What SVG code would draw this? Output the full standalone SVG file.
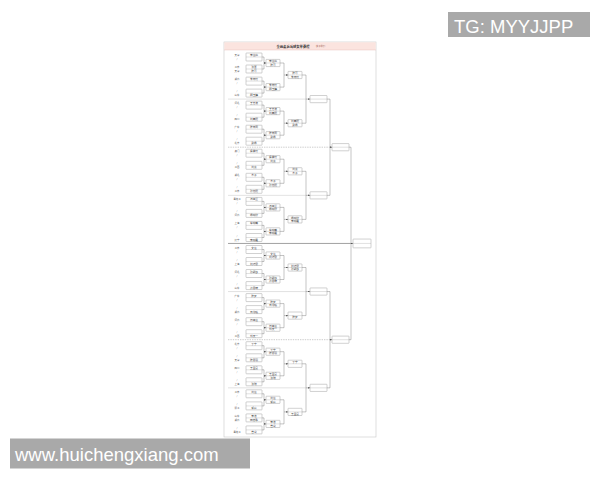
<svg xmlns="http://www.w3.org/2000/svg" xmlns:xlink="http://www.w3.org/1999/xlink" width="600" height="480" viewBox="0 0 600 480">
<style>
.bx rect{fill:#fff;stroke:#8a8a8a;stroke-width:.4}
.bx path{fill:none;stroke:#9a9a9a;stroke-width:.3}
.t{font-family:"Noto Sans CJK SC","Noto Sans",sans-serif;font-size:2.7px;fill:#444;text-anchor:middle}
.l{font-family:"Noto Sans CJK SC","Noto Sans",sans-serif;font-size:2.4px;fill:#555;text-anchor:middle}
.c{fill:none;stroke:#6a6a6a;stroke-width:.4}
.a{fill:none;stroke:#6a6a6a;stroke-width:.4;marker-end:url(#ar)}
.s{fill:none;stroke:#c4c4c4;stroke-width:.5}
.sd{fill:none;stroke:#9a9a9a;stroke-width:.5;stroke-dasharray:1.4 1}
.sm{fill:none;stroke:#8a8a8a;stroke-width:.8}
.wm{font-family:"Liberation Sans",Arial,sans-serif;font-size:18.5px;fill:#fff}
</style>
<defs>
<marker id="ar" markerUnits="userSpaceOnUse" markerWidth="1.8" markerHeight="1.8" refX="1.8" refY=".9" orient="auto"><path d="M0 0L1.8 .9L0 1.8z" fill="#444"/></marker>
<g id="b1" class="bx"><rect x="246" y="-4" width="16" height="8" rx=".5"/><path d="M246 0H262"/></g>
<g id="b2" class="bx"><rect x="266" y="-3.6" width="14" height="7.2" rx=".5"/><path d="M266 0H280"/></g>
<g id="b3" class="bx"><rect x="288" y="-3.6" width="14" height="7.2" rx=".5"/><path d="M288 0H302"/></g>
<g id="b4" class="bx"><rect x="310" y="-3.6" width="17" height="7.2" rx=".5"/><path d="M310 0H327"/></g>
<g id="b5" class="bx"><rect x="332" y="-3.6" width="17" height="7.2" rx=".5"/><path d="M332 0H349"/></g>
<g id="b6" class="bx"><rect x="353" y="-4.4" width="18" height="8.8" rx=".5"/><path d="M353 0H371"/></g>
</defs>
<rect width="600" height="480" fill="#fff"/>
<g id="frame">
<rect x="224" y="42" width="152" height="395" fill="#fff" stroke="#c8c8c8" stroke-width=".6"/>
<rect x="224.3" y="42.3" width="151.4" height="7.7" fill="#fbe4df"/>
<path d="M224 50H376" stroke="#e3b9b1" stroke-width=".4"/>
<text x="293" y="47.5" font-family="Noto Sans CJK SC,sans-serif" font-size="3.3" font-weight="bold" fill="#333" text-anchor="middle">全运会乒乓球女单赛程</text>
<text x="320.5" y="47.3" font-family="Noto Sans CJK SC,sans-serif" font-size="2.1" fill="#a05a50" text-anchor="middle">(女子单打)</text>
</g>
<g id="separators">
<path class="s" d="M228 99.1H306M228 195.35H306M228 291.55H306M228 387.85H306"/>
<path class="sd" d="M228 147.2H330M228 339.7H330"/>
<path class="sm" d="M228 243.45H351"/>
</g>
<g id="connectors">
<path class="c" d="M262 57H264V69H262M262 81.1H264V93.1H262M262 105.1H264V117.2H262M262 129.2H264V141.2H262M262 153.2H264V165.3H262M262 177.3H264V189.3H262M262 201.4H264V213.4H262M262 225.4H264V237.5H262M262 249.5H264V261.5H262M262 273.5H264V285.6H262M262 297.6H264V309.6H262M262 321.7H264V333.7H262M262 345.7H264V357.8H262M262 369.8H264V381.8H262M262 393.8H264V405.9H262M262 417.9H264V429.9H262"/>
<path class="c" d="M280 63H284V87.1H280M280 111.1H284V135.2H280M280 159.2H284V183.3H280M280 207.4H284V231.4H280M280 255.5H284V279.5H280M280 303.6H284V327.7H280M280 351.7H284V375.8H280M280 399.8H284V423.9H280"/>
<path class="c" d="M302 75H306V123.2H302M302 171.3H306V219.4H302M302 267.5H306V315.6H302M302 363.8H306V411.9H302"/>
<path class="c" d="M327 99.1H330V195.35H327M327 291.55H330V387.85H327"/>
<path class="c" d="M349 147.2H351V339.7H349"/>
<path class="a" d="M264 63H266"/><path class="a" d="M264 87.1H266"/><path class="a" d="M264 111.1H266"/><path class="a" d="M264 135.2H266"/><path class="a" d="M264 159.2H266"/><path class="a" d="M264 183.3H266"/><path class="a" d="M264 207.4H266"/><path class="a" d="M264 231.4H266"/><path class="a" d="M264 255.5H266"/><path class="a" d="M264 279.5H266"/><path class="a" d="M264 303.6H266"/><path class="a" d="M264 327.7H266"/><path class="a" d="M264 351.7H266"/><path class="a" d="M264 375.8H266"/><path class="a" d="M264 399.8H266"/><path class="a" d="M264 423.9H266"/>
<path class="a" d="M284 75H288"/><path class="a" d="M284 123.2H288"/><path class="a" d="M284 171.3H288"/><path class="a" d="M284 219.4H288"/><path class="a" d="M284 267.5H288"/><path class="a" d="M284 315.6H288"/><path class="a" d="M284 363.8H288"/><path class="a" d="M284 411.9H288"/>
<path class="a" d="M306 99.1H310"/><path class="a" d="M306 195.35H310"/><path class="a" d="M306 291.55H310"/><path class="a" d="M306 387.85H310"/>
<path class="a" d="M330 147.2H332"/><path class="a" d="M330 339.7H332"/>
<path class="a" d="M351 243.45H353"/>
</g>
<g id="round1">
<g id="m0" transform="translate(0 57)"><use href="#b1"/><text class="l" x="237" y="-1">天津</text><text class="l" x="237" y="3">/</text><text class="t" x="254" y="-1">李佳燚</text></g>
<g id="m1" transform="translate(0 69)"><use href="#b1"/><text class="l" x="237" y="-1">江苏</text><text class="l" x="237" y="3">天津</text><text class="t" x="254" y="-1">张蔷</text><text class="t" x="254" y="3">陈可</text></g>
<g id="m2" transform="translate(0 81.1)"><use href="#b1"/><text class="l" x="237" y="-1">湖南</text><text class="l" x="237" y="3">/</text><text class="t" x="254" y="-1">朱雨玲</text></g>
<g id="m3" transform="translate(0 93.1)"><use href="#b1"/><text class="l" x="237" y="-1">/</text><text class="l" x="237" y="3">山东</text><text class="t" x="254" y="3">顾玉婷</text></g>
<g id="m4" transform="translate(0 105.1)"><use href="#b1"/><text class="l" x="237" y="-1">河北</text><text class="l" x="237" y="3">/</text><text class="t" x="254" y="-1">王艺迪</text></g>
<g id="m5" transform="translate(0 117.2)"><use href="#b1"/><text class="l" x="237" y="-1">/</text><text class="l" x="237" y="3">四川</text><text class="t" x="254" y="3">刘高阳</text></g>
<g id="m6" transform="translate(0 129.2)"><use href="#b1"/><text class="l" x="237" y="-1">广东</text><text class="l" x="237" y="3">/</text><text class="t" x="254" y="-1">陈幸同</text></g>
<g id="m7" transform="translate(0 141.2)"><use href="#b1"/><text class="l" x="237" y="-1">/</text><text class="l" x="237" y="3">北京</text><text class="t" x="254" y="3">武杨</text></g>
<g id="m8" transform="translate(0 153.2)"><use href="#b1"/><text class="l" x="237" y="-1">澳门</text><text class="l" x="237" y="3">/</text><text class="t" x="254" y="-1">侯美玲</text></g>
<g id="m9" transform="translate(0 165.3)"><use href="#b1"/><text class="l" x="237" y="-1">/</text><text class="l" x="237" y="3">江西</text><text class="t" x="254" y="3">刘斐</text></g>
<g id="m10" transform="translate(0 177.3)"><use href="#b1"/><text class="l" x="237" y="-1">湖北</text><text class="l" x="237" y="3">/</text><text class="t" x="254" y="-1">木子</text></g>
<g id="m11" transform="translate(0 189.3)"><use href="#b1"/><text class="l" x="237" y="-1">/</text><text class="l" x="237" y="3">江苏</text><text class="t" x="254" y="3">孙铭阳</text></g>
<g id="m12" transform="translate(0 201.4)"><use href="#b1"/><text class="l" x="237" y="-1">黑龙江</text><text class="l" x="237" y="3">/</text><text class="t" x="254" y="-1">冯亚兰</text></g>
<g id="m13" transform="translate(0 213.4)"><use href="#b1"/><text class="l" x="237" y="-1">/</text><text class="l" x="237" y="3">河南</text><text class="t" x="254" y="3">杨晓欣</text></g>
<g id="m14" transform="translate(0 225.4)"><use href="#b1"/><text class="l" x="237" y="-1">上海</text><text class="l" x="237" y="3">/</text><text class="t" x="254" y="-1">车晓曦</text></g>
<g id="m15" transform="translate(0 237.5)"><use href="#b1"/><text class="l" x="237" y="-1">/</text><text class="l" x="237" y="3">辽宁</text><text class="t" x="254" y="3">李晓霞</text></g>
<g id="m16" transform="translate(0 249.5)"><use href="#b1"/><text class="l" x="237" y="-1">江苏</text><text class="l" x="237" y="3">/</text><text class="t" x="254" y="-1">文佳</text></g>
<g id="m17" transform="translate(0 261.5)"><use href="#b1"/><text class="l" x="237" y="-1">/</text><text class="l" x="237" y="3">上海</text><text class="t" x="254" y="3">刘诗雯</text></g>
<g id="m18" transform="translate(0 273.5)"><use href="#b1"/><text class="l" x="237" y="-1">河北</text><text class="l" x="237" y="3">/</text><text class="t" x="254" y="-1">孙颖莎</text></g>
<g id="m19" transform="translate(0 285.6)"><use href="#b1"/><text class="l" x="237" y="-1">/</text><text class="l" x="237" y="3">山东</text><text class="t" x="254" y="3">范思琦</text></g>
<g id="m20" transform="translate(0 297.6)"><use href="#b1"/><text class="l" x="237" y="-1">广东</text><text class="l" x="237" y="3">/</text><text class="t" x="254" y="-1">陈梦</text></g>
<g id="m21" transform="translate(0 309.6)"><use href="#b1"/><text class="l" x="237" y="-1">/</text><text class="l" x="237" y="3">湖南</text><text class="t" x="254" y="3">石洵瑶</text></g>
<g id="m22" transform="translate(0 321.7)"><use href="#b1"/><text class="l" x="237" y="-1">河南</text><text class="l" x="237" y="3">/</text><text class="t" x="254" y="-1">何卓佳</text></g>
<g id="m23" transform="translate(0 333.7)"><use href="#b1"/><text class="l" x="237" y="-1">/</text><text class="l" x="237" y="3">江西</text><text class="t" x="254" y="3">钱天一</text></g>
<g id="m24" transform="translate(0 345.7)"><use href="#b1"/><text class="l" x="237" y="-1">北京</text><text class="l" x="237" y="3">/</text><text class="t" x="254" y="-1">丁宁</text></g>
<g id="m25" transform="translate(0 357.8)"><use href="#b1"/><text class="l" x="237" y="-1">/</text><text class="l" x="237" y="3">天津</text><text class="t" x="254" y="3">陈思羽</text></g>
<g id="m26" transform="translate(0 369.8)"><use href="#b1"/><text class="l" x="237" y="-1">四川</text><text class="l" x="237" y="3">/</text><text class="t" x="254" y="-1">王曼昱</text></g>
<g id="m27" transform="translate(0 381.8)"><use href="#b1"/><text class="l" x="237" y="-1">/</text><text class="l" x="237" y="3">上海</text><text class="t" x="254" y="3">张瑞</text></g>
<g id="m28" transform="translate(0 393.8)"><use href="#b1"/><text class="l" x="237" y="-1">江苏</text><text class="l" x="237" y="3">/</text><text class="t" x="254" y="-1">刘佳</text></g>
<g id="m29" transform="translate(0 405.9)"><use href="#b1"/><text class="l" x="237" y="-1">/</text><text class="l" x="237" y="3">浙江</text><text class="t" x="254" y="3">郭焱</text></g>
<g id="m30" transform="translate(0 417.9)"><use href="#b1"/><text class="l" x="237" y="-1">山东</text><text class="l" x="237" y="3">湖南</text><text class="t" x="254" y="-1">李洁</text><text class="t" x="254" y="3">田志希</text></g>
<g id="m31" transform="translate(0 429.9)"><use href="#b1"/><text class="l" x="237" y="-1">/</text><text class="l" x="237" y="3">黑龙江</text><text class="t" x="254" y="3">曾尖</text></g>
</g>
<g id="round2">
<g id="n0" transform="translate(0 63)"><use href="#b2"/><text class="t" x="273" y="-.9">李佳燚</text><text class="t" x="273" y="2.7">陈可</text></g>
<g id="n1" transform="translate(0 87.1)"><use href="#b2"/><text class="t" x="273" y="-.9">朱雨玲</text><text class="t" x="273" y="2.7">顾玉婷</text></g>
<g id="n2" transform="translate(0 111.1)"><use href="#b2"/><text class="t" x="273" y="-.9">王艺迪</text><text class="t" x="273" y="2.7">刘高阳</text></g>
<g id="n3" transform="translate(0 135.2)"><use href="#b2"/><text class="t" x="273" y="-.9">陈幸同</text><text class="t" x="273" y="2.7">武杨</text></g>
<g id="n4" transform="translate(0 159.2)"><use href="#b2"/><text class="t" x="273" y="-.9">侯美玲</text><text class="t" x="273" y="2.7">刘斐</text></g>
<g id="n5" transform="translate(0 183.3)"><use href="#b2"/><text class="t" x="273" y="-.9">木子</text><text class="t" x="273" y="2.7">孙铭阳</text></g>
<g id="n6" transform="translate(0 207.4)"><use href="#b2"/><text class="t" x="273" y="-.9">冯亚兰</text><text class="t" x="273" y="2.7">杨晓欣</text></g>
<g id="n7" transform="translate(0 231.4)"><use href="#b2"/><text class="t" x="273" y="-.9">车晓曦</text><text class="t" x="273" y="2.7">李晓霞</text></g>
<g id="n8" transform="translate(0 255.5)"><use href="#b2"/><text class="t" x="273" y="-.9">文佳</text><text class="t" x="273" y="2.7">刘诗雯</text></g>
<g id="n9" transform="translate(0 279.5)"><use href="#b2"/><text class="t" x="273" y="-.9">孙颖莎</text><text class="t" x="273" y="2.7">范思琦</text></g>
<g id="n10" transform="translate(0 303.6)"><use href="#b2"/><text class="t" x="273" y="-.9">陈梦</text><text class="t" x="273" y="2.7">石洵瑶</text></g>
<g id="n11" transform="translate(0 327.7)"><use href="#b2"/><text class="t" x="273" y="-.9">何卓佳</text><text class="t" x="273" y="2.7">钱天一</text></g>
<g id="n12" transform="translate(0 351.7)"><use href="#b2"/><text class="t" x="273" y="-.9">丁宁</text><text class="t" x="273" y="2.7">陈思羽</text></g>
<g id="n13" transform="translate(0 375.8)"><use href="#b2"/><text class="t" x="273" y="-.9">王曼昱</text><text class="t" x="273" y="2.7">张瑞</text></g>
<g id="n14" transform="translate(0 399.8)"><use href="#b2"/><text class="t" x="273" y="-.9">刘佳</text><text class="t" x="273" y="2.7">郭焱</text></g>
<g id="n15" transform="translate(0 423.9)"><use href="#b2"/><text class="t" x="273" y="-.9">李洁</text><text class="t" x="273" y="2.7">曾尖</text></g>
</g>
<g id="round3">
<g id="q0" transform="translate(0 75)"><use href="#b3"/><text class="t" x="295" y="-.9">陈可</text><text class="t" x="295" y="2.7">朱雨玲</text></g>
<g id="q1" transform="translate(0 123.2)"><use href="#b3"/><text class="t" x="295" y="-.9">刘高阳</text><text class="t" x="295" y="2.7">武杨</text></g>
<g id="q2" transform="translate(0 171.3)"><use href="#b3"/><text class="t" x="295" y="-.9">刘斐</text><text class="t" x="295" y="2.7">木子</text></g>
<g id="q3" transform="translate(0 219.4)"><use href="#b3"/><text class="t" x="295" y="-.9">杨晓欣</text><text class="t" x="295" y="2.7">李晓霞</text></g>
<g id="q4" transform="translate(0 267.5)"><use href="#b3"/><text class="t" x="295" y="-.9">刘诗雯</text><text class="t" x="295" y="2.7">孙颖莎</text></g>
<g id="q5" transform="translate(0 315.6)"><use href="#b3"/><text class="t" x="295" y="2.7">陈梦</text></g>
<g id="q6" transform="translate(0 363.8)"><use href="#b3"/><text class="t" x="295" y="-.9">丁宁</text></g>
<g id="q7" transform="translate(0 411.9)"><use href="#b3"/><text class="t" x="295" y="2.7">王曼昱</text></g>
</g>
<g id="round4">
<g id="s0" transform="translate(0 99.1)"><use href="#b4"/></g>
<g id="s1" transform="translate(0 195.35)"><use href="#b4"/></g>
<g id="s2" transform="translate(0 291.55)"><use href="#b4"/></g>
<g id="s3" transform="translate(0 387.85)"><use href="#b4"/></g>
</g>
<g id="round5">
<g id="h0" transform="translate(0 147.2)"><use href="#b5"/></g>
<g id="h1" transform="translate(0 339.7)"><use href="#b5"/></g>
</g>
<g id="final" transform="translate(0 243.45)"><use href="#b6"/></g>
<g id="wm-top"><rect x="448" y="12" width="142" height="25" fill="#a9a9a9"/><text class="wm" x="454" y="32.5">TG: MYYJJPP</text></g>
<g id="wm-bottom"><rect x="10" y="438.5" width="240" height="30" fill="#a9a9a9"/><text class="wm" x="15" y="461">www.huichengxiang.com</text></g>
</svg>
